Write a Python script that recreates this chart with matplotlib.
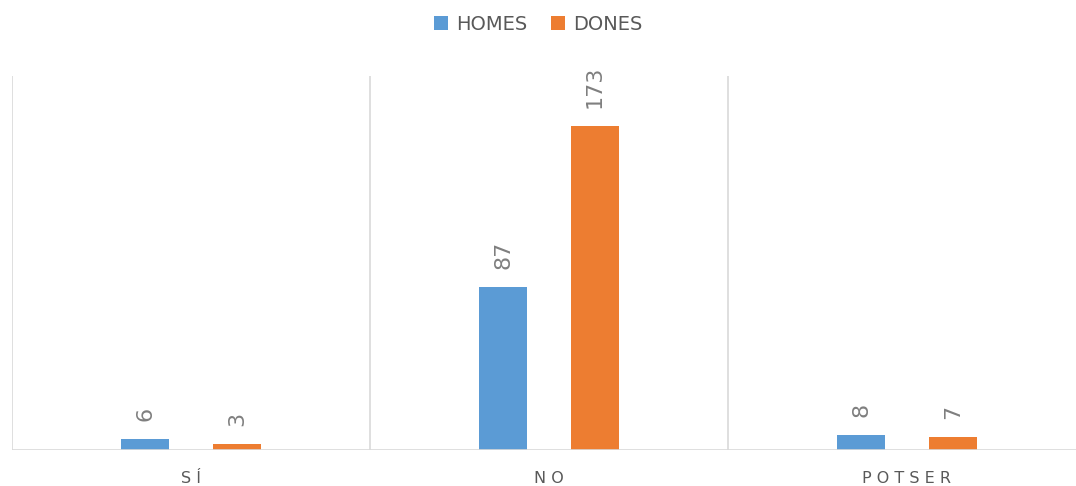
import matplotlib.pyplot as plt
import numpy as np

# data
categories = ["S Í", "N O", "P O T S E R"]
homes = [6, 87, 8]
dones = [3, 173, 7]

blue = "#5B9BD5"
orange = "#ED7D31"
grid_col = "#D9D9D9"
text_col = "#595959"

fig = plt.figure(figsize=(10.76, 4.86), dpi=100)
ax = fig.add_axes([12 / 1076, 36 / 486, 1074 / 1076, 374 / 486])

x = np.arange(len(categories))
w = 0.134
b1 = ax.bar(x - 0.128, homes, w, color=blue, label="HOMES", zorder=3)
b2 = ax.bar(x + 0.128, dones, w, color=orange, label="DONES", zorder=3)

# value labels, rotated like the original
for bars in (b1, b2):
    for r in bars:
        ax.annotate(str(int(r.get_height())),
                    (r.get_x() + r.get_width() / 2, r.get_height()),
                    xytext=(0, 13), textcoords="offset points",
                    rotation=90, ha="center", va="bottom",
                    fontsize=16, color="#7F7F7F")

ax.set_xlim(-0.5, 2.5)
ax.set_ylim(0, 200)

# category separators
for sep in [-0.5, 0.5, 1.5, 2.5]:
    ax.axvline(sep, color=grid_col, lw=1.2, zorder=1)

for s in ax.spines.values():
    s.set_visible(False)
ax.axhline(0, color=grid_col, lw=1.2, zorder=4)

ax.set_yticks([])
ax.set_xticks(x)
ax.set_xticklabels(categories, fontsize=11.5, color=text_col)
ax.tick_params(axis="x", length=0, pad=15)

leg = fig.legend(loc="upper center", bbox_to_anchor=(0.5, 1.005), ncol=2,
                 frameon=False, fontsize=14, handlelength=0.75, handleheight=0.75,
                 columnspacing=1.2, handletextpad=0.4)
for t in leg.get_texts():
    t.set_color(text_col)

fig.savefig("out.png", dpi=100)
